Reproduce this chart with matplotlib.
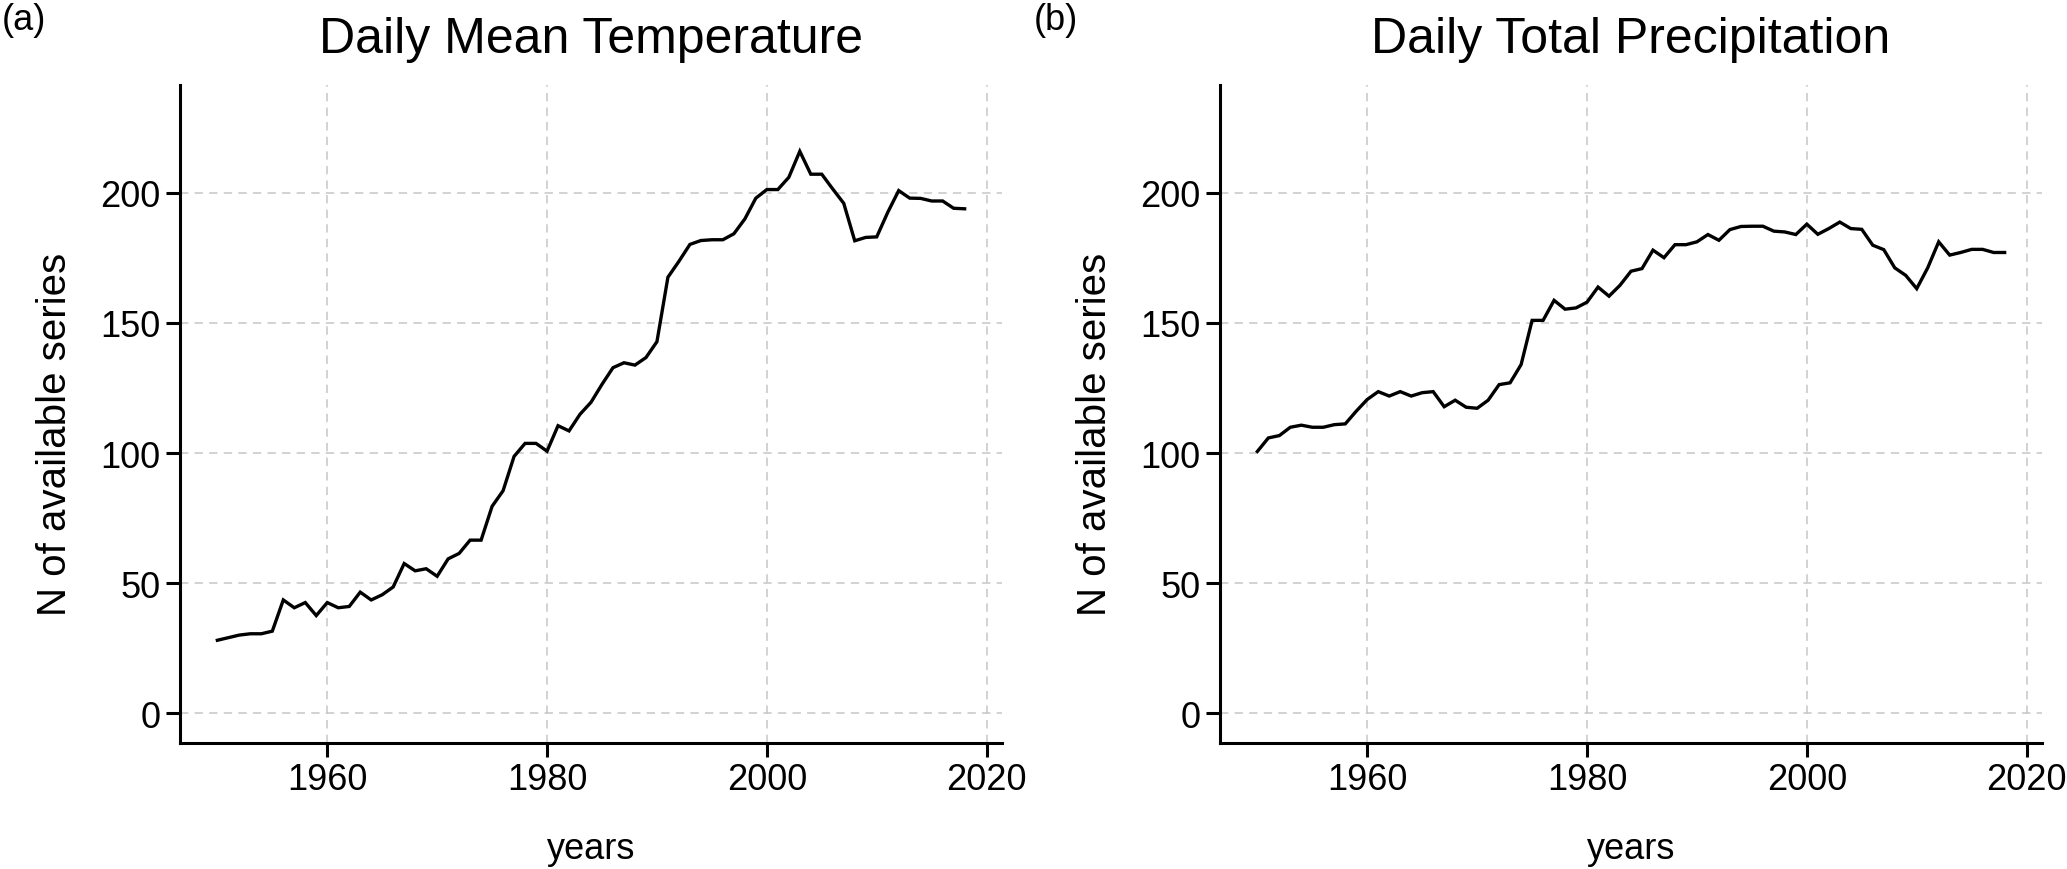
import matplotlib
matplotlib.use("Agg")
import matplotlib.pyplot as plt

plt.rcParams['font.family'] = ['Liberation Sans', 'DejaVu Sans']
plt.rcParams['lines.scale_dashes'] = False

years = list(range(1950, 2019))

temperature = [28, 29, 30, 30.5, 30.5, 31.5, 43.5, 40.5, 42.5, 37.5,
               42.5, 40.5, 41, 46.5, 43.5, 45.5, 48.5, 57.5, 54.7, 55.5,
               52.6, 59.3, 61.4, 66.5, 66.5, 79.5, 85.5, 98.7, 103.7, 103.7,
               100.7, 110.5, 108.5, 114.9, 119.5, 126.4, 132.8, 134.7, 133.8, 136.7,
               142.8, 167.6, 173.7, 180.2, 181.7, 182, 182, 184.3, 190, 198,
               201.3, 201.3, 206, 216, 207.2, 207.2, 201.5, 196, 181.6, 182.9,
               183.1, 192.5, 200.9, 198, 197.9, 196.9, 196.9, 194.1, 193.9]

precipitation = [100.6, 105.8, 106.7, 109.9, 110.7, 109.9, 109.9, 110.9, 111.2, 116.1,
                 120.6, 123.6, 121.9, 123.6, 121.9, 123.2, 123.6, 117.8, 120.3, 117.6,
                 117.2, 120.3, 126.3, 127, 134, 151, 151, 158.7, 155.3, 155.8,
                 158, 163.8, 160.3, 164.5, 169.9, 170.9, 178, 175.1, 180.1, 180.1,
                 181.2, 184, 181.8, 185.9, 187.1, 187.2, 187.2, 185.3, 185, 184,
                 188, 184.1, 186.3, 188.8, 186.3, 186, 179.9, 178.2, 171.2, 168.3,
                 163.2, 171.2, 181.2, 176.1, 177.1, 178.3, 178.3, 177.1, 177.1]

titles = ["Daily Mean Temperature", "Daily Total Precipitation"]
panel_tags = ["(a)", "(b)"]
x_ticks = [1960, 1980, 2000, 2020]
y_ticks = [0, 50, 100, 150, 200]

W, H = 2067, 870
fig = plt.figure(figsize=(W / 100, H / 100), dpi=100)

ax_left_px = [180, 1220]
ax_w_px = 822
ax_top_px, ax_bot_px = 86, 744
tag_x_px = [2, 1034]

series = [temperature, precipitation]
for i in range(2):
    ax = fig.add_axes([ax_left_px[i] / W, (H - ax_bot_px) / H,
                       ax_w_px / W, (ax_bot_px - ax_top_px) / H])
    ax.plot(years, series[i], color='black', lw=2.4, solid_joinstyle='miter')
    ax.set_xlim(1946.6, 2021.4)
    ax.set_ylim(-11.5, 241.5)
    ax.set_xticks(x_ticks)
    ax.set_yticks(y_ticks)
    ax.grid(True, color='#c6c6c6', lw=1.1, linestyle=(0, (6, 4.5)))
    ax.set_axisbelow(True)
    for s in ['top', 'right']:
        ax.spines[s].set_visible(False)
    for s in ['left', 'bottom']:
        ax.spines[s].set_linewidth(2.2)
        ax.spines[s].set_color('black')
    ax.tick_params(axis='both', length=10, width=2.2, color='black',
                   labelsize=26, labelcolor='black', pad=4)
    ax.set_xlabel("years", fontsize=26)
    ax.set_ylabel("N of available series", fontsize=29)
    ax.xaxis.set_label_coords(0.5, -0.16)
    ax.xaxis.label.set_va('center')
    ax.yaxis.set_label_coords(-0.152, 0.47)
    ax.yaxis.label.set_va('center')
    cx = (ax_left_px[i] + ax_w_px / 2) / W
    fig.text(cx, 1 - 40 / H, titles[i], ha='center', va='center', fontsize=36)
    fig.text(tag_x_px[i] / W, 1 - 20 / H, panel_tags[i], ha='left', va='center',
             fontsize=26)

fig.savefig("out.png", dpi=100, facecolor='white')
